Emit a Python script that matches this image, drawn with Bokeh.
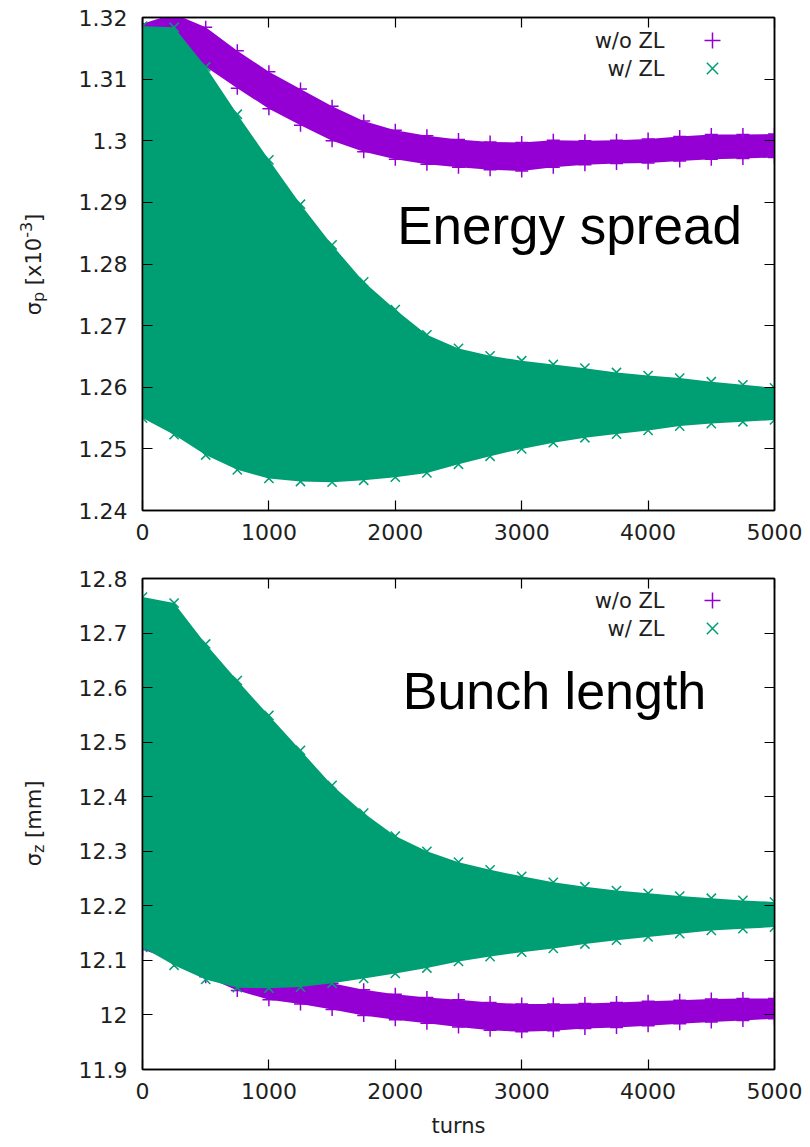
import math
from bokeh.plotting import figure
from bokeh.models import (Range1d, LinearAxis, FixedTicker, Label, Legend,
                          LegendItem, ColumnDataSource)
from bokeh.layouts import column, row
from bokeh.core.properties import value
from bokeh.embed import file_html
from bokeh.resources import INLINE

# ---------------- data (envelope of the oscillating bands) ----
TURNS = [0, 250, 500, 750, 1000, 1250, 1500, 1750, 2000, 2250, 2500,
         2750, 3000, 3250, 3500, 3750, 4000, 4250, 4500, 4750, 5000]

# energy spread sigma_p [x1e-3]
SP_WO_UPPER = [1.3190, 1.3206, 1.3184, 1.3146, 1.3112, 1.3084, 1.3056, 1.3032, 1.3017, 1.3008, 1.3002,
               1.2998, 1.2997, 1.3001, 1.3000, 1.3001, 1.3003, 1.3007, 1.3010, 1.3010, 1.3011]
SP_WO_LOWER = [1.3125, 1.3140, 1.3120, 1.3085, 1.3052, 1.3025, 1.3000, 1.2982, 1.2970, 1.2962, 1.2957,
               1.2953, 1.2951, 1.2957, 1.2961, 1.2963, 1.2964, 1.2967, 1.2970, 1.2971, 1.2973]
SP_W_UPPER = [1.3186, 1.3184, 1.3120, 1.3043, 1.2969, 1.2897, 1.2831, 1.2771, 1.2726, 1.2685, 1.2663,
              1.2651, 1.2643, 1.2637, 1.2631, 1.2624, 1.2619, 1.2615, 1.2609, 1.2604, 1.2599]
SP_W_LOWER = [1.2550, 1.2523, 1.2490, 1.2466, 1.2452, 1.2447, 1.2446, 1.2449, 1.2454, 1.2461, 1.2475,
              1.2488, 1.2500, 1.2510, 1.2518, 1.2524, 1.2530, 1.2537, 1.2541, 1.2544, 1.2547]

# bunch length sigma_z [mm]
SZ_WO_UPPER = [12.170, 12.150, 12.120, 12.095, 12.075, 12.065, 12.058, 12.046, 12.038, 12.032, 12.028,
               12.023, 12.020, 12.020, 12.021, 12.023, 12.025, 12.027, 12.029, 12.030, 12.030]
SZ_WO_LOWER = [12.120, 12.100, 12.070, 12.045, 12.028, 12.020, 12.010, 11.999, 11.991, 11.985, 11.978,
               11.972, 11.969, 11.971, 11.975, 11.977, 11.980, 11.984, 11.987, 11.990, 11.993]
SZ_W_UPPER = [12.766, 12.755, 12.680, 12.613, 12.549, 12.485, 12.421, 12.370, 12.328, 12.300, 12.280,
              12.266, 12.254, 12.243, 12.235, 12.228, 12.223, 12.218, 12.214, 12.210, 12.207]
SZ_W_LOWER = [12.124, 12.091, 12.065, 12.050, 12.049, 12.051, 12.058, 12.067, 12.076, 12.086, 12.098,
              12.107, 12.115, 12.122, 12.130, 12.137, 12.143, 12.149, 12.155, 12.158, 12.161]

SERIES_NAMES = ["w/o ZL", "w/ ZL"]

X_TICKS = [0, 1000, 2000, 3000, 4000, 5000]
X_TICK_LABELS = ["0", "1000", "2000", "3000", "4000", "5000"]
SP_TICKS = [1.24, 1.25, 1.26, 1.27, 1.28, 1.29, 1.3, 1.31, 1.32]
SP_TICK_LABELS = ["1.24", "1.25", "1.26", "1.27", "1.28", "1.29", "1.3", "1.31", "1.32"]
SZ_TICKS = [11.9, 12.0, 12.1, 12.2, 12.3, 12.4, 12.5, 12.6, 12.7, 12.8]
SZ_TICK_LABELS = ["11.9", "12", "12.1", "12.2", "12.3", "12.4", "12.5", "12.6", "12.7", "12.8"]

# ---------------- style ----------------
PURPLE = "#9400d3"
GREEN = "#009e73"
TXT = "#1e1e1e"
FONT = "DejaVu Sans"
BIG_FONT = "Liberation Sans"
W = 810
LW = 60                      # width of the strip holding the y-axis titles
FRAME_L, FRAME_R = 142, 36   # frame edges in page pixels


def style_axes(p, yticks, ylabels):
    p.xaxis.ticker = FixedTicker(ticks=X_TICKS)
    p.yaxis.ticker = FixedTicker(ticks=yticks)
    p.xaxis.major_label_overrides = {t: l for t, l in zip(X_TICKS, X_TICK_LABELS)}
    p.yaxis.major_label_overrides = {t: l for t, l in zip(yticks, ylabels)}
    for ax in (p.xaxis[0], p.yaxis[0]):
        ax.major_tick_in = 10
        ax.major_tick_out = 0
        ax.minor_tick_line_color = None
        ax.axis_line_color = "black"
        ax.axis_line_width = 1.5
        ax.major_tick_line_color = "black"
        ax.major_tick_line_width = 1.2
        ax.major_label_text_font = FONT
        ax.major_label_text_font_size = "22px"
        ax.major_label_text_color = TXT
    p.yaxis.major_label_standoff = 15
    p.xaxis.major_label_standoff = 13
    # mirrored axes (ticks only)
    right = LinearAxis(ticker=FixedTicker(ticks=yticks),
                       major_label_overrides={t: "" for t in yticks})
    above = LinearAxis(ticker=FixedTicker(ticks=X_TICKS),
                       major_label_overrides={t: "" for t in X_TICKS})
    for ax in (right, above):
        ax.major_tick_in = 10
        ax.major_tick_out = 0
        ax.minor_tick_line_color = None
        ax.axis_line_color = "black"
        ax.axis_line_width = 1.5
        ax.major_tick_line_color = "black"
        ax.major_tick_line_width = 1.2
        ax.major_label_standoff = 0
        ax.major_label_text_font_size = "1px"
    p.add_layout(right, "right")
    p.add_layout(above, "above")


def add_bands(p, wo_up, wo_lo, w_up, w_lo):
    s_wo = ColumnDataSource(dict(x=TURNS, up=wo_up, lo=wo_lo))
    s_w = ColumnDataSource(dict(x=TURNS, up=w_up, lo=w_lo))
    p.varea(x="x", y1="lo", y2="up", source=s_wo, fill_color=PURPLE)
    r1 = p.scatter(x="x", y="up", source=s_wo, marker="cross", size=13,
                   line_color=PURPLE, line_width=1.5)
    p.scatter(x="x", y="lo", source=s_wo, marker="cross", size=13,
              line_color=PURPLE, line_width=1.5)
    p.varea(x="x", y1="lo", y2="up", source=s_w, fill_color=GREEN)
    r2 = p.scatter(x="x", y="up", source=s_w, marker="x", size=13,
                   line_color=GREEN, line_width=1.5)
    p.scatter(x="x", y="lo", source=s_w, marker="x", size=13,
              line_color=GREEN, line_width=1.5)
    return r1, r2


def add_legend(p, renderers, frame_h, first_off, step=28):
    # first_off: distance (px) of first legend row centre below the frame top
    gh = 40
    for i, (r, name) in enumerate(zip(renderers, SERIES_NAMES)):
        off = first_off + step * i
        legend = Legend(items=[LegendItem(label=value(" "), renderers=[r])],
                        location=(550, frame_h - off - gh / 2), orientation="vertical",
                        glyph_width=gh, glyph_height=gh, spacing=0, padding=0,
                        margin=0, label_width=0, label_height=0, label_standoff=0,
                        label_text_font_size="1px", background_fill_alpha=0,
                        border_line_alpha=0)
        p.add_layout(legend)
        p.add_layout(Label(x=522, y=frame_h - off, x_units="screen",
                           y_units="screen", text=name, text_align="right",
                           text_baseline="middle", text_font=FONT,
                           text_font_size="21px", text_color=TXT))


ADV = {"σ": 0.634, "p": 0.635, "z": 0.525, " ": 0.318, "[": 0.39, "]": 0.39,
       "x": 0.592, "1": 0.636, "0": 0.636, "-": 0.361, "3": 0.636, "m": 0.974}


def ylabel_strip(h, top, bottom, pieces, center_y):
    # narrow strip left of the plot holding the rotated y-axis title (reads upward).
    # vertical data coordinate == pixel row measured from the top of this figure
    s = figure(width=LW, height=h, x_range=Range1d(0, LW),
               y_range=Range1d(h - bottom, top),
               output_backend="svg", toolbar_location=None, x_axis_type=None,
               y_axis_type=None, min_border_left=0, min_border_right=0,
               min_border_top=top, min_border_bottom=bottom)
    s.grid.visible = False
    s.outline_line_color = None
    widths = [sum(ADV[c] for c in t) * sz for t, sz, _, _ in pieces]
    gaps = [g * sz for _, sz, _, g in pieces]
    y = center_y + (sum(widths) + sum(gaps)) / 2
    for (t, sz, xc, _), w, g in zip(pieces, widths, gaps):
        y -= g
        s.add_layout(Label(x=xc, y=y, text=t, angle=math.pi / 2, text_align="left",
                           text_baseline="middle", text_font=FONT,
                           text_font_size=f"{sz}px", text_color=TXT))
        y -= w
    return s


# ---------------- top panel: energy spread ----------------
H1, T1, B1 = 550, 17, 40
p1 = figure(width=W - LW, height=H1, x_range=Range1d(0, 5000), y_range=Range1d(1.24, 1.32),
            output_backend="svg", toolbar_location=None,
            min_border_left=FRAME_L - LW, min_border_right=FRAME_R,
            min_border_top=T1, min_border_bottom=B1)
p1.grid.visible = False
p1.outline_line_color = "black"
p1.outline_line_width = 1.5
style_axes(p1, SP_TICKS, SP_TICK_LABELS)
r1, r2 = add_bands(p1, SP_WO_UPPER, SP_WO_LOWER, SP_W_UPPER, SP_W_LOWER)
fh1 = H1 - T1 - B1
add_legend(p1, [r1, r2], fh1, 23)
p1.add_layout(Label(x=427, y=fh1 - 208, x_units="screen", y_units="screen",
                    text="Energy spread", text_align="center", text_baseline="middle",
                    text_font=BIG_FONT, text_font_size="53px", text_color="black"))
s1 = ylabel_strip(H1, T1, B1,
                  [("σ", 21, 33, 0), ("p", 16, 38, 0), ("[x10", 21, 33, 0.318),
                   ("-3", 16, 25, 0), ("]", 21, 33, 0)], 264)

# ---------------- bottom panel: bunch length ----------------
H2, T2, B2 = 597, 28, 78
p2 = figure(width=W - LW, height=H2, x_range=Range1d(0, 5000), y_range=Range1d(11.9, 12.8),
            output_backend="svg", toolbar_location=None,
            min_border_left=FRAME_L - LW, min_border_right=FRAME_R,
            min_border_top=T2, min_border_bottom=B2)
p2.grid.visible = False
p2.outline_line_color = "black"
p2.outline_line_width = 1.5
style_axes(p2, SZ_TICKS, SZ_TICK_LABELS)
xb = p2.below[0]
xb.axis_label = "turns"
xb.axis_label_text_font = FONT
xb.axis_label_text_font_size = "21px"
xb.axis_label_text_font_style = "normal"
xb.axis_label_text_color = TXT
xb.axis_label_standoff = 12
r1b, r2b = add_bands(p2, SZ_WO_UPPER, SZ_WO_LOWER, SZ_W_UPPER, SZ_W_LOWER)
fh2 = H2 - T2 - B2
add_legend(p2, [r1b, r2b], fh2, 22)
p2.add_layout(Label(x=412, y=fh2 - 112, x_units="screen", y_units="screen",
                    text="Bunch length", text_align="center", text_baseline="middle",
                    text_font=BIG_FONT, text_font_size="52px", text_color="black"))
s2 = ylabel_strip(H2, T2, B2,
                  [("σ", 21, 33, 0), ("z", 16, 38, 0), ("[mm]", 21, 33, 0.318)], 823 - 550)

layout = column(row(s1, p1, spacing=0), row(s2, p2, spacing=0), spacing=0)
open("out.html", "w").write(file_html(layout, INLINE))
